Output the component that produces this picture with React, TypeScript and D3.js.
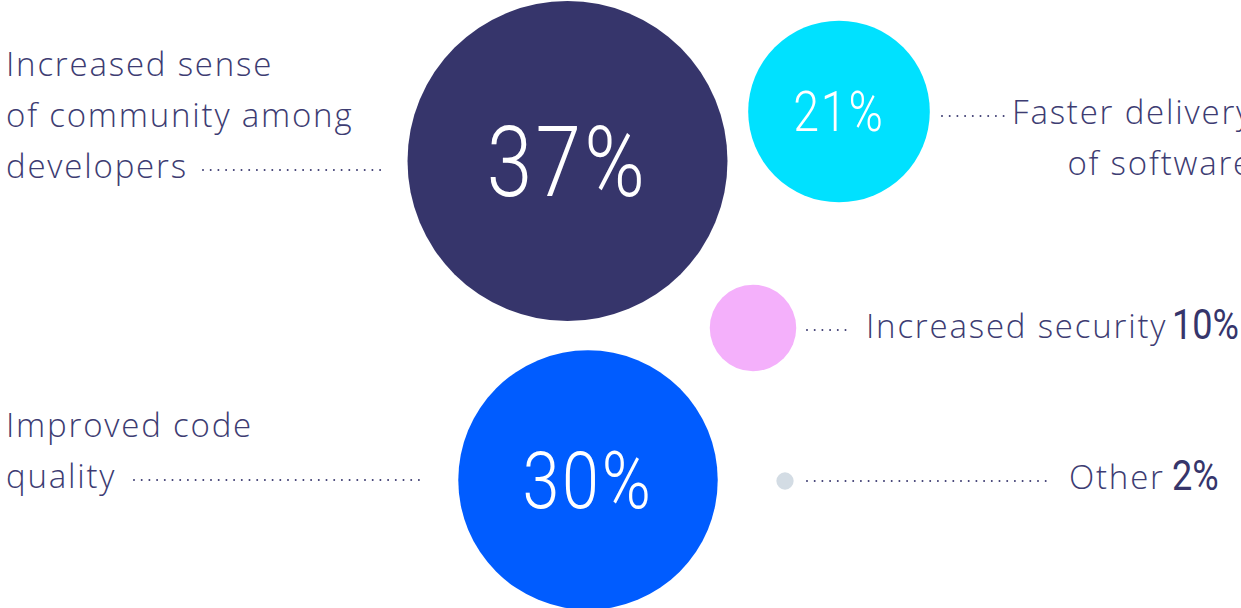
import React from 'react'
import * as d3 from 'd3'

// survey answers, share of respondents (%)
const categories = ['community', 'delivery', 'security', 'quality', 'other']
const values = [37, 21, 10, 30, 2]
const labelLines = [
  ['Increased sense', 'of community among', 'developers'],
  ['Faster delivery', 'of software'],
  ['Increased security'],
  ['Improved code', 'quality'],
  ['Other'],
]
const colors = ['#36356b', '#00e1ff', '#f4b0fb', '#005cff', '#d3dce4']

// hand placed layout of the infographic (not data)
const layout = [
  { cx: 567.5, cy: 161, side: 'left', lx: 6, ly: 76, dot: [203, 381], dotLine: 2, vx: null },
  { cx: 839, cy: 111.5, side: 'right', lx: 1253, ly: 124, dot: [942, 1006], dotLine: 0, vx: null },
  { cx: 753, cy: 328, side: 'inline', lx: 866, ly: 338, dot: [807, 853], dotLine: 0, vx: 1172 },
  { cx: 588, cy: 480, side: 'left', lx: 6, ly: 437, dot: [134, 420], dotLine: 1, vx: null },
  { cx: 785, cy: 481, side: 'inline', lx: 1069, ly: 489, dot: [807, 1048], dotLine: 0, vx: 1172 },
]

const W = 1241
const H = 608
const LINE = 51
const labelColor = '#3d3c72'
const labelFont = '"Open Sans", Lato, sans-serif'
const numFont = 'Roboto, "DejaVu Sans Condensed", sans-serif'

export default function App() {
  const r = d3.scaleLinear().domain([0, d3.max(values) as number]).range([0, 160])

  return (
    <svg width={W} height={H} style={{ position: 'absolute', left: 0, top: 0, background: '#fff' }}>
      {categories.map((c, i) => {
        const L = layout[i]
        const rad = r(values[i])
        const lines = labelLines[i]
        const dotY = L.ly + L.dotLine * LINE - 8
        const lastY = L.ly + (lines.length - 1) * LINE
        return (
          <g key={c}>
            <circle cx={L.cx} cy={L.cy} r={rad} fill={colors[i]} />
            {L.vx == null && (
              <text
                transform={`translate(${L.cx},${L.cy}) scale(0.84,1)`}
                dy="0.36em"
                textAnchor="middle"
                fill="#fff"
                fontFamily={numFont}
                fontWeight={300}
                fontSize={rad * 0.61}
                letterSpacing={rad * 0.025}
              >
                {values[i]}%
              </text>
            )}
            <line
              x1={L.dot[0]}
              x2={L.dot[1]}
              y1={dotY}
              y2={dotY}
              stroke={labelColor}
              strokeWidth={2}
              strokeLinecap="round"
              strokeDasharray="0 7.7"
            />
            <text
              fontFamily={labelFont}
              fontWeight={300}
              fontSize={33}
              letterSpacing={1.8}
              fill={labelColor}
              textAnchor={L.side === 'right' ? 'end' : 'start'}
            >
              {lines.map((t, j) => (
                <tspan key={j} x={L.lx} y={L.ly + j * LINE}>
                  {t}
                </tspan>
              ))}
            </text>
            {L.vx != null && (
              <text
                transform={`translate(${L.vx},${lastY + 1}) scale(0.84,1)`}
                fontFamily={numFont}
                fontWeight={400}
                fontSize={43}
                fill="#36356b"
              >
                {values[i]}%
              </text>
            )}
          </g>
        )
      })}
    </svg>
  )
}
